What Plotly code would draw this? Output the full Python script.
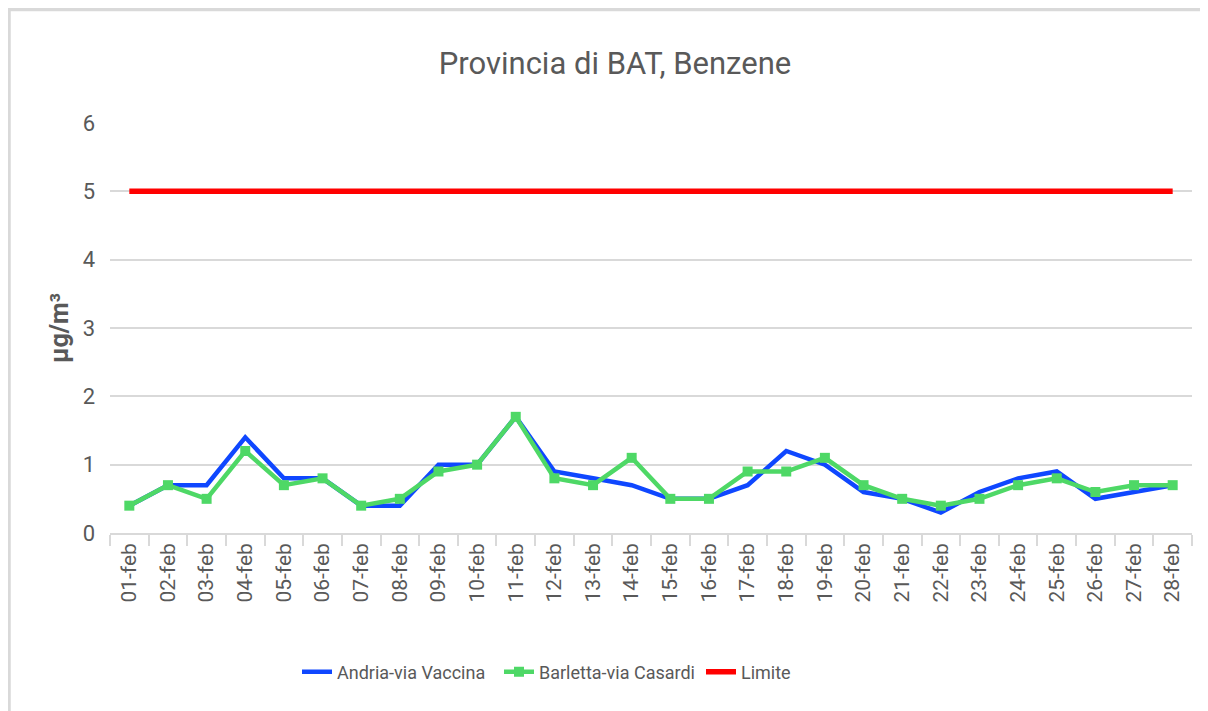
import plotly.graph_objects as go

days = [f"{d:02d}-feb" for d in range(1, 29)]
andria = [0.4, 0.7, 0.7, 1.4, 0.8, 0.8, 0.4, 0.4, 1.0, 1.0, 1.7, 0.9, 0.8, 0.7,
          0.5, 0.5, 0.7, 1.2, 1.0, 0.6, 0.5, 0.3, 0.6, 0.8, 0.9, 0.5, 0.6, 0.7]
barletta = [0.4, 0.7, 0.5, 1.2, 0.7, 0.8, 0.4, 0.5, 0.9, 1.0, 1.7, 0.8, 0.7, 1.1,
            0.5, 0.5, 0.9, 0.9, 1.1, 0.7, 0.5, 0.4, 0.5, 0.7, 0.8, 0.6, 0.7, 0.7]
limite = [5] * 28

FONT = "Roboto, Liberation Sans, sans-serif"
TXT = "#595959"
GRID = "#d9d9d9"

fig = go.Figure()
fig.add_trace(go.Scatter(x=days, y=andria, mode="lines", name="Andria-via Vaccina",
                         line=dict(color="#0f47ff", width=4.5)))
fig.add_trace(go.Scatter(x=days, y=barletta, mode="lines+markers", name="Barletta-via Casardi",
                         line=dict(color="#4ed866", width=4.5),
                         marker=dict(symbol="square", size=10, color="#4ed866")))
fig.add_trace(go.Scatter(x=days, y=limite, mode="lines", name="Limite",
                         line=dict(color="#ff0000", width=5.5)))

# the page adds an 8px body margin, so the figure is 8px smaller each way
W, H = 1200, 703
L, R, T, B = 102, 16, 115, 178
pw, ph = W - L - R, H - T - B

def px(x):
    return (x - L) / pw

def py(y):
    return (H - B - y) / ph

fig.update_layout(
    width=W, height=H,
    margin=dict(l=L, r=R, t=T, b=B),
    paper_bgcolor="white", plot_bgcolor="white",
    font=dict(family=FONT, color=TXT),
    title=dict(text="Provincia di BAT, Benzene", x=(615 - 8) / W, xanchor="center",
               y=1 - 55 / H, yanchor="middle",
               font=dict(family=FONT, size=31, color=TXT)),
    xaxis=dict(type="category", range=[-0.5, 27.5], tickangle=-90,
               tickfont=dict(family=FONT, size=21, color=TXT),
               showgrid=False, showline=True, linecolor=GRID, linewidth=1.5,
               ticks="outside", tickson="boundaries", ticklen=11, tickcolor=GRID,
               tickwidth=1.5, zeroline=False),
    yaxis=dict(range=[0, 6], dtick=1, showgrid=True, gridcolor=GRID, gridwidth=1.5,
               zeroline=False, showline=False, ticks="", ticklen=0,
               ticklabelstandoff=14,
               tickfont=dict(family=FONT, size=22, color=TXT),
               title=dict(text="<b>µg/m³</b>", standoff=6,
                          font=dict(family=FONT, size=25, color=TXT))),
    legend=dict(orientation="h", x=px(289), xanchor="left", y=py(664), yanchor="middle",
                font=dict(family=FONT, size=18, color=TXT),
                entrywidth=157, entrywidthmode="pixels",
                traceorder="normal"),
    showlegend=True,
)

fig.add_shape(type="path", xref="paper", yref="paper",
              path=f"M {px(1)},{py(720)} L {px(1)},{py(1.5)} L {px(1215)},{py(1.5)}",
              line=dict(color=GRID, width=3.5))

fig.write_html("out.html")
